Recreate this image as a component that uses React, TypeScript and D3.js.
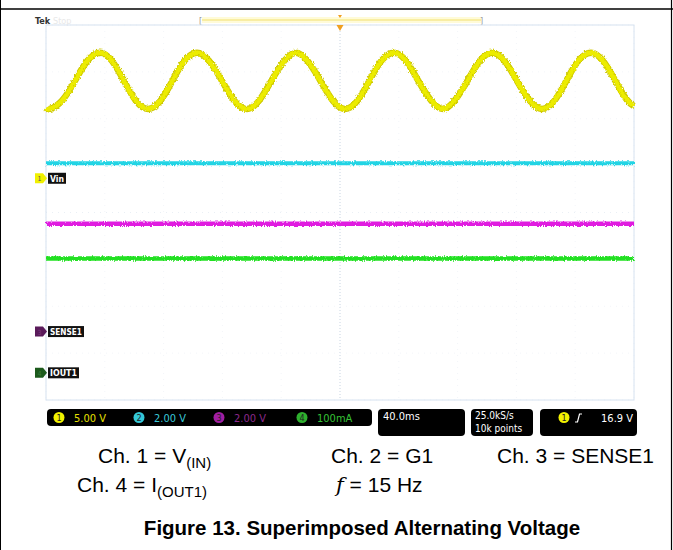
import React from "react";
import * as d3 from "d3";

// ---- data ----
const timeDomain = [0, 400]; // ms (40.0 ms/div x 10 div)
const divDomain = [-4, 4]; // vertical graticule divisions

// Ch1 Vin (V) at read points (eighth-period spacing): [ms, volts]
const vinTimes = [
  0, 2.7, 11, 19.7, 28, 36.7, 45, 53, 61, 69.4, 78, 86, 94, 102.7, 111, 119.7, 128, 136.7, 145, 153.3, 162, 170,
  178, 186.7, 195, 203.4, 212, 220, 228, 236.7, 245, 253.3, 262, 270, 278, 286.7, 295, 303.4, 312, 320.4, 329,
  337.4, 346, 354, 362, 370.7, 379, 387.3, 395, 400,
];
const vinValues = [
  7.5, 7.4, 8.3, 10.4, 12.5, 13.4, 12.5, 10.4, 8.3, 7.4, 8.3, 10.4, 12.5, 13.4, 12.5, 10.4, 8.3, 7.4, 8.3, 10.4, 12.5,
  13.4, 12.5, 10.4, 8.3, 7.4, 8.3, 10.4, 12.5, 13.4, 12.5, 10.4, 8.3, 7.4, 8.3, 10.4, 12.5, 13.4, 12.5, 10.4, 8.3,
  7.4, 8.3, 10.4, 12.5, 13.4, 12.5, 10.4, 8.4, 7.7,
];
// Ch2 G1 (V), Ch3 SENSE1 (V), Ch4 IOUT1 (mA)
const flatTimes = [0, 400];
const g1Values = [10.1, 10.1];
const senseValues = [4.6, 4.6];
const ioutValues = [244, 244];

// channel settings: scale per div, ground offset in div
const channelScales = [5, 2, 2, 100];
const channelOffsets = [0.73, -4, -2.54, -3.42];
const channelColors = ["#ecec00", "#22d4e4", "#e01ee0", "#22e022"];
const statusLabels = ["5.00 V", "2.00 V", "2.00 V", "100mA"];
const statusTextColors = ["#e6e000", "#3ac8d8", "#8c2a8c", "#36c036"];
const statusCircleColors = ["#f2f200", "#34c8d8", "#a21ea2", "#2eb02e"];
const refLabels = [
  { ch: 0, text: "Vin", w: 18, fill: "#f0f000", num: "#555" },
  { ch: 2, text: "SENSE1", w: 36, fill: "#5a1a5a", num: "#7a3a7a" },
  { ch: 3, text: "IOUT1", w: 31, fill: "#1c5a1c", num: "#3a7a3a" },
];
const timebase = "40.0ms";
const sampleRate = ["25.0kS/s", "10k points"];
const triggerLevel = "16.9 V";

const W = 673;
const H = 550;
const condensed = "'DejaVu Sans Condensed', 'Liberation Sans Narrow', 'DejaVu Sans', sans-serif";
const arial = "'Liberation Sans', Arial, sans-serif";

export default function App() {
  const x = d3.scaleLinear().domain(timeDomain).range([46, 634]);
  const yDiv = d3.scaleLinear().domain(divDomain).range([400, 25]);
  const chY = (ch: number, v: number) => yDiv(channelOffsets[ch] + v / channelScales[ch]);

  const line = (ch: number, curve: d3.CurveFactory) =>
    d3
      .line<[number, number]>()
      .x((d) => x(d[0]))
      .y((d) => chY(ch, d[1]))
      .curve(curve);

  const vinPath = line(0, d3.curveNatural)(vinTimes.map((t, i) => [t, vinValues[i]]))!;
  const g1Path = line(1, d3.curveLinear)(flatTimes.map((t, i) => [t, g1Values[i]]))!;
  const sensePath = line(2, d3.curveLinear)(flatTimes.map((t, i) => [t, senseValues[i]]))!;
  const ioutPath = line(3, d3.curveLinear)(flatTimes.map((t, i) => [t, ioutValues[i]]))!;

  const xTicks = d3.range(0, 401, 40);
  const yTicks = d3.range(-4, 5, 1);

  const statusX = [59, 139, 219, 302];

  return (
    <div style={{ position: "absolute", left: 0, top: 0 }}>
      <svg width={W} height={H} style={{ display: "block", background: "#fff" }}>
        <defs>
          {[1, 2, 3, 4].map((s) => (
            <filter key={s} id={`fuzz${s}`} filterUnits="userSpaceOnUse" x={0} y={0} width={W} height={H}>
              <feTurbulence type="fractalNoise" baseFrequency="0.9 0.5" numOctaves={1} seed={s * 7} result="n" />
              <feDisplacementMap in="SourceGraphic" in2="n" scale={4} xChannelSelector="R" yChannelSelector="G" />
            </filter>
          ))}
        </defs>

        {/* frame */}
        <line x1={0} x2={W} y1={9} y2={9} stroke="#000" strokeWidth={1.6} />
        <line x1={0.5} x2={0.5} y1={0} y2={H} stroke="#000" strokeWidth={1} />
        <line x1={671.5} x2={671.5} y1={0} y2={H} stroke="#000" strokeWidth={1.2} />

        {/* top bar */}
        <text x={35} y={24} fontFamily={condensed} fontWeight="bold" fontSize={9} fill="#333">Tek</text>
        <text x={53} y={24} fontFamily={condensed} fontSize={9} fill="#e8e8e8">Stop</text>
        <rect x={202} y={17} width={279} height={6} fill="#fffbd8" />
        <line x1={202} x2={481} y1={20} y2={20} stroke="#f2e070" strokeWidth={1} />
        <text x={199} y={24} fontFamily={condensed} fontSize={9} fill="#999">[</text>
        <text x={480} y={24} fontFamily={condensed} fontSize={9} fill="#999">]</text>
        <path d={`M${x(200) - 2},15 L${x(200) + 2},15 L${x(200)},18 Z`} fill="#f0a020" />

        {/* graticule */}
        {xTicks.map((t) => (
          <line
            key={`gx${t}`}
            x1={x(t)}
            x2={x(t)}
            y1={25}
            y2={400}
            stroke={t === 200 ? "#c8d4e2" : "#f3f5f9"}
            strokeWidth={1}
            strokeDasharray={t === 200 ? "1 2" : "1 5"}
          />
        ))}
        {yTicks.map((d) => (
          <line
            key={`gy${d}`}
            x1={46}
            x2={634}
            y1={yDiv(d)}
            y2={yDiv(d)}
            stroke={d === 0 ? "#eaeff5" : "#f3f5f9"}
            strokeWidth={1}
            strokeDasharray="1 5"
          />
        ))}
        <rect x={46} y={25} width={588} height={375} fill="none" stroke="#d6e2f0" strokeWidth={1} />
        <path d={`M${x(200) - 3.5},25 L${x(200) + 3.5},25 L${x(200)},31 Z`} fill="#f0a020" />

        {/* traces */}
        <path d={g1Path} fill="none" stroke={channelColors[1]} strokeWidth={4} filter="url(#fuzz2)" />
        <path d={sensePath} fill="none" stroke={channelColors[2]} strokeWidth={4.5} filter="url(#fuzz3)" />
        <path d={ioutPath} fill="none" stroke={channelColors[3]} strokeWidth={4.5} filter="url(#fuzz4)" />
        <path d={vinPath} fill="none" stroke="#cdc800" strokeWidth={6.5} filter="url(#fuzz1)" />
        <path d={vinPath} fill="none" stroke={channelColors[0]} strokeWidth={4.5} filter="url(#fuzz1)" />

        {/* reference markers and labels */}
        {refLabels.map((r) => {
          const yy = chY(r.ch, 0);
          return (
            <g key={r.text}>
              <path d={`M35,${yy - 5} L43,${yy - 5} L47,${yy} L43,${yy + 5} L35,${yy + 5} Z`} fill={r.fill} />
              <text x={39.5} y={yy + 3} textAnchor="middle" fontFamily={condensed} fontSize={7} fill={r.num}>
                {r.ch + 1}
              </text>
              <rect x={48} y={yy - 5.5} width={r.w} height={11} fill="#111" />
              <text
                x={50}
                y={yy + 3.5}
                fontFamily={condensed}
                fontWeight="bold"
                fontSize={9.5}
                fill="#fff"
                textLength={r.w - 4}
                lengthAdjust="spacingAndGlyphs"
              >
                {r.text}
              </text>
            </g>
          );
        })}

        {/* status bar */}
        <rect x={47} y={409} width={325} height={17} rx={4} fill="#000" />
        {statusLabels.map((s, i) => (
          <g key={`st${i}`}>
            <circle cx={statusX[i]} cy={417.5} r={5.5} fill={statusCircleColors[i]} />
            <text x={statusX[i]} y={421} textAnchor="middle" fontFamily={condensed} fontSize={9} fill="#222">
              {i + 1}
            </text>
            <text x={statusX[i] + 15} y={421.5} fontFamily={condensed} fontSize={11} fill={statusTextColors[i]}>
              {s}
            </text>
          </g>
        ))}
        <rect x={378} y={409} width={87} height={27} rx={4} fill="#000" />
        <text x={383} y={420} fontFamily={condensed} fontSize={11} fill="#fff">{timebase}</text>
        <rect x={471} y={409} width={62} height={27} rx={4} fill="#000" />
        <text x={475} y={419} fontFamily={condensed} fontSize={10} fill="#fff">{sampleRate[0]}</text>
        <text x={475} y={432} fontFamily={condensed} fontSize={10} fill="#fff">{sampleRate[1]}</text>
        <rect x={540} y={409} width={97} height={27} rx={4} fill="#000" />
        <circle cx={564} cy={417.5} r={5.5} fill={statusCircleColors[0]} />
        <text x={564} y={421} textAnchor="middle" fontFamily={condensed} fontSize={9} fill="#222">1</text>
        <path d="M575,422 L577.5,422 L579.5,414 L582,414" fill="none" stroke="#fff" strokeWidth={1.2} />
        <text x={633} y={421.5} textAnchor="end" fontFamily={condensed} fontSize={11} fill="#fff">{triggerLevel}</text>

        {/* captions */}
        <g fontFamily={arial} fontSize={21} fill="#000">
          <text x={98} y={463}>
            Ch. 1 = V<tspan fontSize={15} dy={5}>(IN)</tspan>
          </text>
          <text x={331} y={463}>Ch. 2 = G1</text>
          <text x={497} y={463}>Ch. 3 = SENSE1</text>
          <text x={77} y={492}>
            Ch. 4 = I<tspan fontSize={15} dy={5}>(OUT1)</tspan>
          </text>
          <text x={336} y={492}>
            <tspan fontStyle="italic" fontFamily="'DejaVu Serif', serif">f</tspan> = 15 Hz
          </text>
        </g>
        <text x={362} y={535} textAnchor="middle" fontFamily={arial} fontWeight="bold" fontSize={20.5} fill="#000">
          Figure 13. Superimposed Alternating Voltage
        </text>
      </svg>
    </div>
  );
}
